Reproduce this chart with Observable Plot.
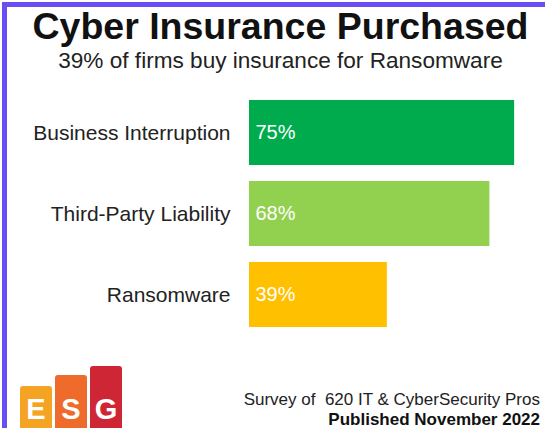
<!DOCTYPE html>
<html>
<head>
<meta charset="utf-8">
<script src="https://cdn.jsdelivr.net/npm/d3@7"></script>
<script src="https://cdn.jsdelivr.net/npm/@observablehq/plot@0.6"></script>
<style>
  html, body { margin: 0; padding: 0; background: #fff; }
  #wrap { position: relative; width: 545px; height: 428px; overflow: hidden; font-family: "Liberation Sans", Arial, sans-serif; background:#fff; }
  .abs { position: absolute; white-space: nowrap; line-height: 1; }
  #frame { position: absolute; left: 2px; top: 2px; width: 560px; height: 440px; border-left: 5px solid #6b4ef2; border-top: 5px solid #6b4ef2; box-sizing: border-box; }
  #title { left: 8px; width: 545px; text-align: center; top: 8px; font-size: 37.5px; font-weight: bold; color: #111; }
  #subtitle { left: 8px; width: 545px; text-align: center; top: 50px; font-size: 22.6px; color: #222; }
  #chart { position: absolute; left: 0; top: 80px; }
  .foot { right: 5px; font-size: 17px; color: #222; }
  .logo { position: absolute; bottom: 0; width: 32px; border-radius: 3px 3px 0 0; color: #fff; font-weight: bold; font-size: 29px; text-align: center; line-height: 1; box-sizing: border-box; }
  .logo span { position: absolute; left: 0; width: 100%; bottom: 4px; }
</style>
</head>
<body>
<div id="wrap">
  <div id="frame"></div>
  <div id="title" class="abs">Cyber Insurance Purchased</div>
  <div id="subtitle" class="abs">39% of firms buy insurance for Ransomware</div>
  <div id="chart"></div>
  <div class="abs foot" style="top:391px;">Survey of&nbsp; 620 IT &amp; CyberSecurity Pros</div>
  <div class="abs foot" style="top:411px;font-weight:bold;color:#111;">Published November 2022</div>
  <div class="logo" style="left:20px;height:42px;background:#f4a322;"><span>E</span></div>
  <div class="logo" style="left:55px;height:53px;background:#ee6b2b;"><span>S</span></div>
  <div class="logo" style="left:90px;height:62px;background:#cf2636;"><span>G</span></div>
</div>
<script>
const categories = ["Business Interruption", "Third-Party Liability", "Ransomware"];
const values = [75, 68, 39];
const colors = ["#00ab4e", "#92d050", "#ffc000"];

const data = categories.map((c, i) => ({category: c, value: values[i], color: colors[i]}));

const chart = Plot.plot({
  width: 545,
  height: 264,
  marginTop: 4,
  marginBottom: 0.8,
  marginLeft: 249,
  marginRight: 13.2,
  style: {fontFamily: "Liberation Sans, Arial, sans-serif", background: "transparent"},
  x: {domain: [0, 80], axis: null},
  y: {domain: categories, padding: 0.2, label: null},
  marks: [
    Plot.barX(data, {x: "value", y: "category", fill: "color"}),
    Plot.text(data, {x: 0, y: "category", text: d => d.value + "%", textAnchor: "start", dx: 6, fill: "white", fontSize: 20}),
    Plot.axisY({tickSize: 0, tickPadding: 19, fontSize: 21, color: "#222", label: null})
  ]
});
document.getElementById("chart").appendChild(chart);
</script>
</body>
</html>
